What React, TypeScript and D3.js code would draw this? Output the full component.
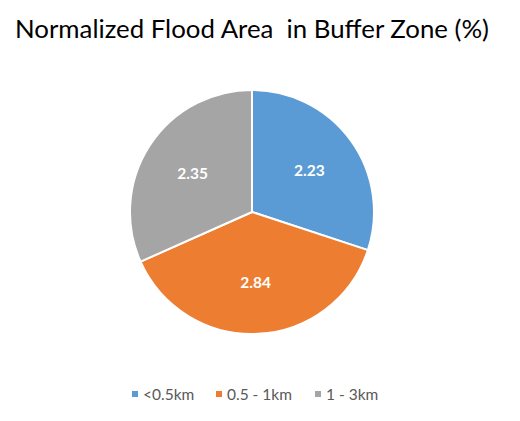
import React, { useEffect, useRef } from "react";
import * as d3 from "d3";

const categories = ["<0.5km", "0.5 - 1km", "1 - 3km"];
const values = [2.23, 2.84, 2.35];
const colors = ["#5B9BD5", "#ED7D31", "#A5A5A5"];
const title = "Normalized Flood Area \u00A0in Buffer Zone (%)";

const W = 520;
const H = 421;
const FONT = "Lato, 'Open Sans', sans-serif";

export default function App() {
  const ref = useRef<SVGSVGElement>(null);

  useEffect(() => {
    if (!ref.current) return;
    const svg = d3.select(ref.current);
    svg.selectAll("*").remove();

    svg.append("rect").attr("width", W).attr("height", H).attr("fill", "#fff");

    svg.append("text")
      .attr("x", 252).attr("y", 38)
      .attr("text-anchor", "middle")
      .attr("font-family", FONT).attr("font-size", "25.8px")
      .attr("fill", "#000")
      .text(title);

    const cx = 252, cy = 212, r = 122;
    const data = categories.map((c, i) => ({ label: c, value: values[i], color: colors[i] }));
    const pie = d3.pie<typeof data[0]>().value((d) => d.value).sort(null);
    const arcs = pie(data);
    const arc = d3.arc<d3.PieArcDatum<typeof data[0]>>().innerRadius(0).outerRadius(r);
    const labelArc = d3.arc<d3.PieArcDatum<typeof data[0]>>().innerRadius(r * 0.58).outerRadius(r * 0.58);

    const g = svg.append("g").attr("transform", `translate(${cx},${cy})`);
    g.selectAll("path").data(arcs).enter().append("path")
      .attr("d", arc)
      .attr("fill", (d) => d.data.color)
      .attr("stroke", "#fff").attr("stroke-width", 2).attr("stroke-linejoin", "round");

    g.selectAll("text").data(arcs).enter().append("text")
      .attr("transform", (d) => `translate(${labelArc.centroid(d)})`)
      .attr("text-anchor", "middle").attr("dy", "0.35em")
      .attr("font-family", FONT).attr("font-size", "15.5px").attr("font-weight", 700)
      .attr("fill", "#fff")
      .text((d) => d.data.value.toFixed(2));

    // legend
    const legendX = [132, 216, 315];
    const lg = svg.append("g");
    data.forEach((d, i) => {
      lg.append("rect").attr("x", legendX[i]).attr("y", 391).attr("width", 6).attr("height", 6).attr("fill", d.color);
      lg.append("text").attr("x", legendX[i] + 11).attr("y", 400)
        .attr("font-family", FONT).attr("font-size", "15.5px").attr("fill", "#595959")
        .text(d.label);
    });
  }, []);

  return (
    <svg ref={ref} width={W} height={H}
      style={{ position: "absolute", left: 0, top: 0, display: "block" }} />
  );
}
